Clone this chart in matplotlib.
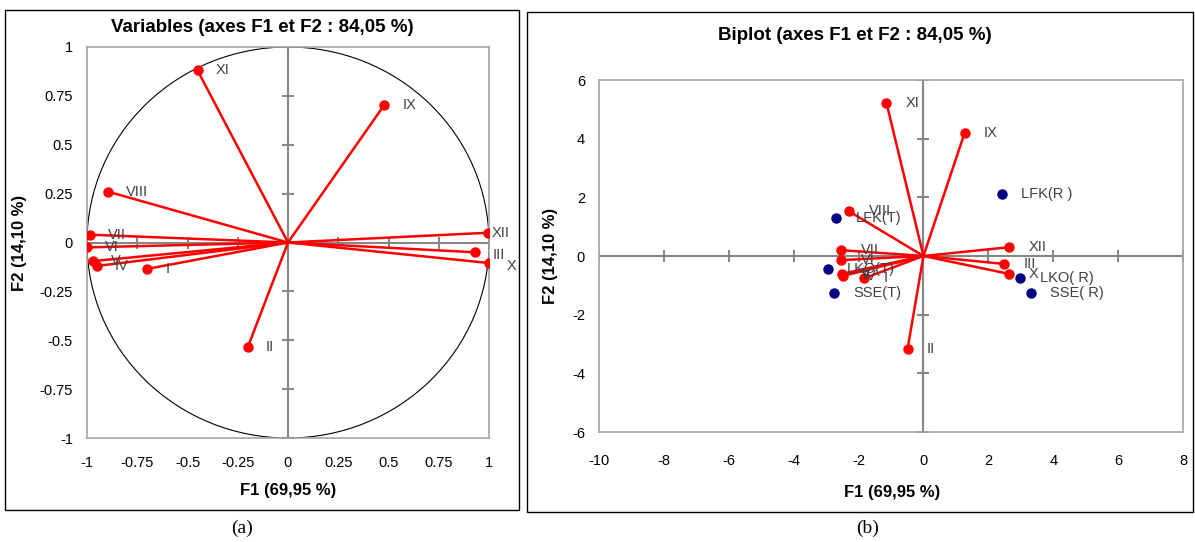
import matplotlib
matplotlib.use("Agg")
import matplotlib.pyplot as plt
from matplotlib.patches import Circle, Rectangle
import numpy as np

plt.rcParams['font.family'] = ['Liberation Sans', 'DejaVu Sans']

# correlation circle (F1, F2)
var_names = ['I', 'II', 'III', 'IV', 'V', 'VI', 'VII', 'VIII', 'IX', 'X', 'XI', 'XII']
var_f1 = [-0.70, -0.20, 0.93, -0.95, -0.97, -1.00, -0.985, -0.895, 0.48, 1.00, -0.45, 0.995]
var_f2 = [-0.135, -0.535, -0.05, -0.12, -0.095, -0.025, 0.04, 0.26, 0.705, -0.105, 0.88, 0.05]

# biplot: variables (scaled) and observations
bi_f1 = [-1.83, -0.49, 2.49, -2.48, -2.52, -2.54, -2.54, -2.29, 1.27, 2.64, -1.14, 2.64]
bi_f2 = [-0.76, -3.17, -0.27, -0.68, -0.61, -0.14, 0.20, 1.52, 4.20, -0.61, 5.22, 0.30]
obs_names = ['LFK(R )', 'LFK(T)', 'LKO(T)', 'SSE(T)', 'LKO( R)', 'SSE( R)']
obs_f1 = [2.42, -2.68, -2.95, -2.75, 2.98, 3.31]
obs_f2 = [2.12, 1.31, -0.43, -1.25, -0.74, -1.25]

left_ticks = np.arange(-1, 1.01, 0.25)
right_xticks = np.arange(-10, 8.1, 2)
right_yticks = np.arange(-6, 6.1, 2)

GREY = '#868686'
TXT = '#404040'


def style_axes(ax, xticks, yticks, xlim, ylim, xpad):
    ax.set_xlim(*xlim)
    ax.set_ylim(*ylim)
    ax.set_xticks(xticks)
    ax.set_yticks(yticks)
    ax.set_xticklabels([f'{v:g}' for v in xticks])
    ax.set_yticklabels([f'{v:g}' for v in yticks])
    ax.tick_params(length=0, labelsize=10.5, colors='black')
    ax.tick_params(axis='x', pad=xpad)
    ax.tick_params(axis='y', pad=10)
    for s in ax.spines.values():
        s.set_color('#a6a6a6')
        s.set_linewidth(1.2)
    # central axes with Excel style tick marks
    ax.axhline(0, color=GREY, lw=1.5, zorder=1)
    ax.axvline(0, color=GREY, lw=1.5, zorder=1)
    ax.plot(xticks, np.zeros_like(xticks), ls='none', marker='|', ms=9,
            mew=1.5, color=GREY, zorder=1)
    ax.plot(np.zeros_like(yticks), yticks, ls='none', marker='_', ms=9,
            mew=1.5, color=GREY, zorder=1)


fig = plt.figure(figsize=(11.95, 5.42), dpi=100)

# panel frames and captions
fig.add_artist(Rectangle((5 / 1195, 1 - 510 / 542), 514 / 1195, 500 / 542,
                         transform=fig.transFigure, fill=False, ec='black', lw=1))
fig.add_artist(Rectangle((527 / 1195, 1 - 512 / 542), 666 / 1195, 500 / 542,
                         transform=fig.transFigure, fill=False, ec='black', lw=1))
fig.text(242 / 1195, 1 - 528 / 542, '(a)', ha='center', va='center',
         family='Liberation Serif', fontsize=14)
fig.text(868 / 1195, 1 - 528 / 542, '(b)', ha='center', va='center',
         family='Liberation Serif', fontsize=14)

# ---- (a) correlation circle
ax1 = fig.add_axes([87 / 1195, 1 - 438 / 542, 402 / 1195, 391 / 542])
style_axes(ax1, left_ticks, left_ticks, (-1, 1), (-1, 1), 13)
ax1.add_artist(Circle((0, 0), 1, fill=False, ec='black', lw=0.8, zorder=1))
for name, x, y in zip(var_names, var_f1, var_f2):
    ax1.plot([0, x], [0, y], color='red', lw=1.8, zorder=2)
    ax1.plot(x, y, 'o', color='red', ms=6.5, zorder=3)
    dx, dy = 13, 0
    if name == 'XII':
        dx = 3
    elif name in ('III', 'X'):
        dx, dy = 13, -2
    ax1.annotate(name, (x, y), xytext=(dx, dy), textcoords='offset points',
                 ha='left', va='center', fontsize=10.5, color=TXT)
fig.text(262 / 1195, 1 - 28 / 542, 'Variables (axes F1 et F2 : 84,05 %)',
         ha='center', va='center', fontsize=13.5, fontweight='bold')
fig.text(288 / 1195, 1 - 491 / 542, 'F1 (69,95 %)', ha='center', va='center',
         fontsize=12, fontweight='bold')
fig.text(20 / 1195, 1 - 243 / 542, 'F2 (14,10 %)', ha='center', va='center',
         rotation=90, fontsize=12, fontweight='bold')

# ---- (b) biplot
ax2 = fig.add_axes([599 / 1195, 1 - 432 / 542, 584 / 1195, 352 / 542])
style_axes(ax2, right_xticks, right_yticks, (-10, 8), (-6, 6), 16)
for name, x, y in zip(var_names, bi_f1, bi_f2):
    ax2.plot([0, x], [0, y], color='red', lw=1.8, zorder=2)
    ax2.plot(x, y, 'o', color='red', ms=6.5, zorder=3)
    ax2.annotate(name, (x, y), xytext=(14, 0), textcoords='offset points',
                 ha='left', va='center', fontsize=10.5, color=TXT)
for name, x, y in zip(obs_names, obs_f1, obs_f2):
    ax2.plot(x, y, 'o', color='#000080', ms=6.5, zorder=3)
    ax2.annotate(name, (x, y), xytext=(14, 0), textcoords='offset points',
                 ha='left', va='center', fontsize=10.5, color=TXT)
fig.text(855 / 1195, 1 - 35 / 542, 'Biplot (axes F1 et F2 : 84,05 %)',
         ha='center', va='center', fontsize=13.5, fontweight='bold')
fig.text(892 / 1195, 1 - 492 / 542, 'F1 (69,95 %)', ha='center', va='center',
         fontsize=12, fontweight='bold')
fig.text(551 / 1195, 1 - 256 / 542, 'F2 (14,10 %)', ha='center', va='center',
         rotation=90, fontsize=12, fontweight='bold')

fig.savefig('out.png', dpi=100)
